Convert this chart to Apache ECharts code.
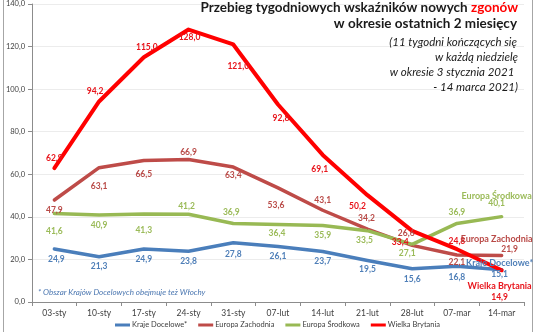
<!DOCTYPE html>
<html><head><meta charset="utf-8">
<script src="https://cdn.jsdelivr.net/npm/echarts@6/dist/echarts.min.js"></script>
<style>html,body{margin:0;padding:0;background:#fff}#c{width:536px;height:332px}</style>
</head><body><div id="c"></div>
<script>
const categories = ['03-sty','10-sty','17-sty','24-sty','31-sty','07-lut','14-lut','21-lut','28-lut','07-mar','14-mar'];
const krajeDocelowe   = [24.9,21.3,24.9,23.8,27.8,26.1,23.7,19.5,15.6,16.8,15.1];
const europaZachodnia = [47.9,63.1,66.5,66.9,63.4,53.6,43.1,34.2,26.6,22.1,21.9];
const europaSrodkowa  = [41.6,40.9,41.3,41.2,36.9,36.4,35.9,33.5,27.1,36.9,40.1];
const wielkaBrytania  = [62.9,94.2,115.0,128.0,121.0,92.8,69.1,50.2,33.4,24.8,14.9];
const seriesNames = ['Kraje Docelowe*','Europa Zachodnia','Europa Środkowa','Wielka Brytania'];
const yMin = 0, yMax = 140, yStep = 20;

// label placement (styling, not data)
const offKD = [[2,10],[0,10],[0,10],[0,10],[0,11],[0,10],[0,10],[0,9],[0,10],[0,11],[-2,4]];
const offEZ = [[0,10],[0,19],[0,14],[0,-7],[0,8],[-2,17],[0,-10],[-1,-11],[-6,-12],[0,7],[8,-6]];
const offES = [[0,18],[0,10],[0,16],[-2,-8],[-2,-11],[-1,9],[0,10],[-3,10],[-5,9],[0,-11],[-5,-13]];
const offWB = [[0,-10],[-4,-10],[3,-10],[1,8],[5,22],[3,14],[-3,14],[-10,11],[-12,11],[0,-8],[-2,27]];
const nameOff = [[-2,-7],[-5,-16],[-5,-21],[-2,16]];
const colors = ['#4A7EBB','#BE4B48','#98B954','#FF0000'];
const labelColors = ['#4F7FB8','#B94A47','#9BBB59','#E8141B'];

const fmt = v => v.toFixed(1).replace('.', ',');
const FONT = 'Lato, "Liberation Sans", sans-serif';

function mkSeries(idx, values, offs, width) {
  return {
    name: seriesNames[idx], type: 'line', data: values.map((v,i)=>({value:v, label:{offset:offs[i]}})),
    symbol: 'circle', symbolSize: 1, showSymbol: true,
    itemStyle: {color: colors[idx]},
    lineStyle: {color: colors[idx], width: width, cap:'round', join:'round'},
    label: {show: true, position: 'inside', formatter: p => fmt(p.value), color: labelColors[idx],
            fontSize: 8.5, fontWeight: 'bold', fontFamily: FONT},
    markPoint: {symbol:'circle', symbolSize: 0.01, silent: true,
      data: [{coord:[values.length-1, values[values.length-1]],
        label:{show:true, position:'inside', offset:nameOff[idx], formatter: seriesNames[idx],
               color: labelColors[idx], fontSize: 9, fontWeight:'bold', fontFamily: FONT}}]},
    emphasis: {disabled: true}, animation: false
  };
}

const chart = echarts.init(document.getElementById('c'));
chart.setOption({
  animation: false,
  title: [
    {text: '{a|Przebieg tygodniowych wskaźników nowych }{r|zgonów}', right: 18, top: 1, padding: 0,
     textStyle: {rich: {a:{fontSize:13.5, fontWeight:'bold', color:'#1a1a1a', fontFamily:FONT},
                        r:{fontSize:13.5, fontWeight:'bold', color:'#FF0000', fontFamily:FONT}}}},
    {text: 'w okresie ostatnich 2 miesięcy', right: 19, top: 17, padding: 0,
     textStyle: {fontSize:13.5, fontWeight:'bold', color:'#1a1a1a', fontFamily:FONT}},
    {text: '(11 tygodni kończących się', right: 19, top: 36, padding: 0,
     textStyle: {fontSize:11.5, fontStyle:'italic', fontWeight:'normal', color:'#1a1a1a', fontFamily:FONT}},
    {text: 'w każdą niedzielę', right: 18, top: 51, padding: 0,
     textStyle: {fontSize:11.5, fontStyle:'italic', fontWeight:'normal', color:'#1a1a1a', fontFamily:FONT}},
    {text: 'w okresie 3 stycznia 2021 ', right: 19, top: 66, padding: 0,
     textStyle: {fontSize:11.5, fontStyle:'italic', fontWeight:'normal', color:'#1a1a1a', fontFamily:FONT}},
    {text: '- 14 marca 2021)', right: 18, top: 81, padding: 0,
     textStyle: {fontSize:11.5, fontStyle:'italic', fontWeight:'normal', color:'#1a1a1a', fontFamily:FONT}},
    {text: '* Obszar Krajów Docelowych obejmuje też Włochy', left: 38, top: 288, padding: 0,
     textStyle: {fontSize:8, fontStyle:'italic', fontWeight:'normal', color:'#4A76B0', fontFamily:FONT}}
  ],
  legend: {data: seriesNames, left: 115, top: 321, itemWidth: 15, itemHeight: 3, itemGap: 11, icon: 'rect',
           padding: 0, textStyle: {fontSize: 7.5, color:'#404040', fontFamily: FONT, padding:[0,0,0,-3]}},
  grid: {left: 32, right: 12, top: 2, bottom: 30},
  xAxis: {type:'category', data: categories, boundaryGap: true,
          axisLine: {lineStyle:{color:'#8c8c8c', width:1}},
          axisTick: {show:true, alignWithLabel:false, length:4, lineStyle:{color:'#8c8c8c'}},
          axisLabel: {fontSize: 8.5, color:'#404040', margin: 7, fontFamily: FONT}},
  yAxis: {type:'value', min: yMin, max: yMax, interval: yStep,
          axisLine: {show:true, lineStyle:{color:'#8c8c8c', width:1}},
          axisTick: {show:true, length:4, lineStyle:{color:'#8c8c8c'}},
          splitLine: {lineStyle:{color:'#ececec', width:1}},
          axisLabel: {fontSize: 7.5, color:'#404040', margin: 7, formatter: v => fmt(v), fontFamily: FONT}},
  graphic: [{type:'rect', shape:{x:3.5, y:-2, width:529, height:340}, style:{fill:'none', stroke:'#a6a6a6', lineWidth:1}, silent:true}],
  series: [
    mkSeries(0, krajeDocelowe, offKD, 3.5),
    mkSeries(1, europaZachodnia, offEZ, 3.5),
    mkSeries(2, europaSrodkowa, offES, 3.5),
    mkSeries(3, wielkaBrytania, offWB, 4)
  ]
});
</script></body></html>
